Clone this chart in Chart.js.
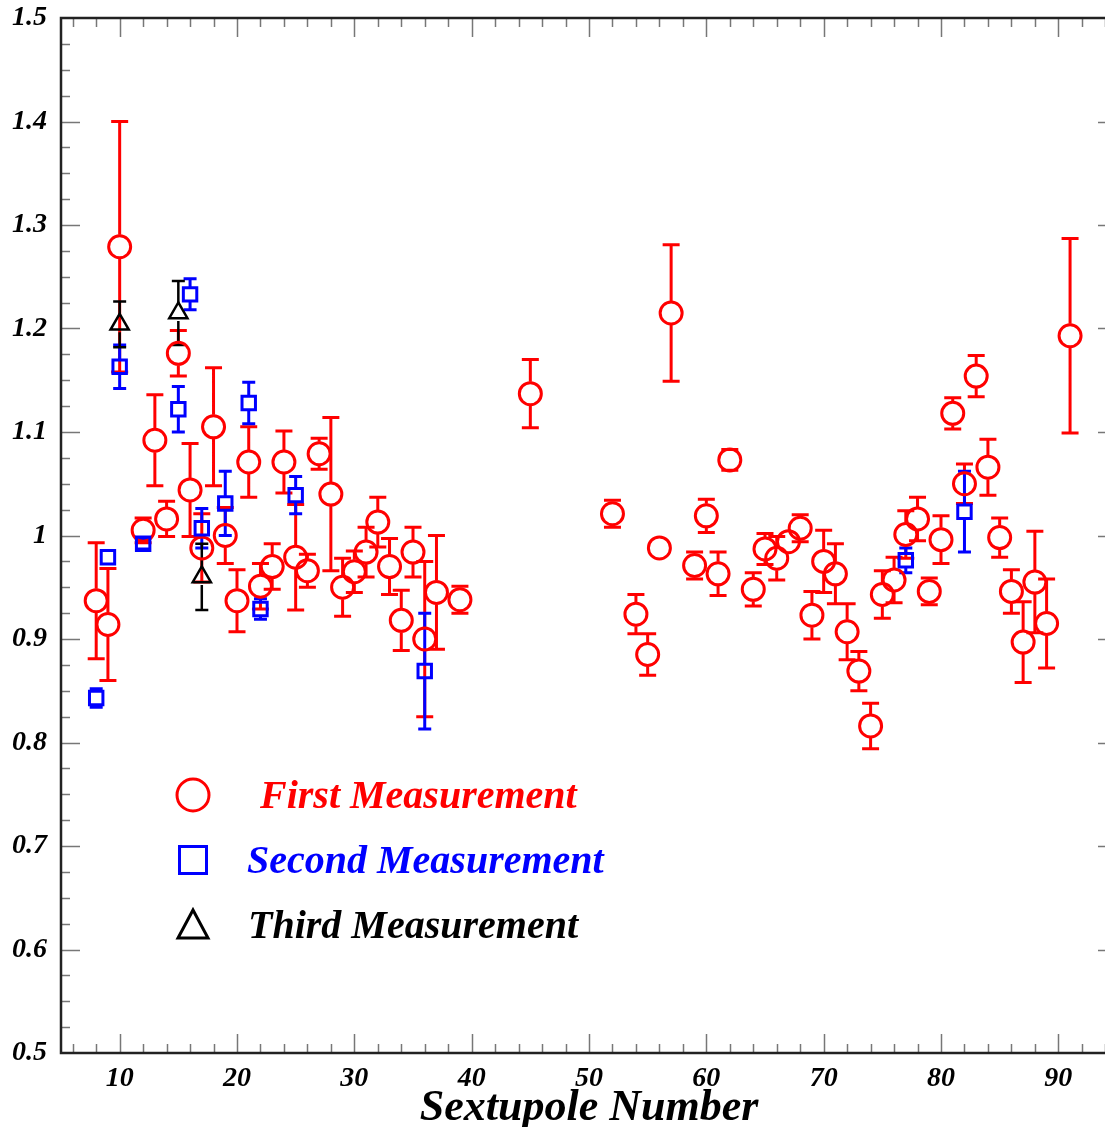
<!DOCTYPE html>
<html>
<head>
<meta charset="utf-8">
<script src="https://cdn.jsdelivr.net/npm/chart.js@4.4.1/dist/chart.umd.min.js"></script>
<style>
html, body { margin: 0; padding: 0; background: #fff; }
#wrap { width: 1105px; height: 1127px; overflow: hidden; position: relative; }
canvas { display: block; }
</style>
</head>
<body>
<div id="wrap"><canvas id="chart_sext" width="1120" height="1127" style="width:1120px;height:1127px"></canvas></div>
<script>
// first measurement
const firstX = [8, 9, 10, 12, 13, 14, 15, 16, 17, 18,
  19, 20, 21, 22, 23, 24, 25, 26, 27, 28,
  29, 30, 31, 32, 33, 34, 35, 36, 37, 39,
  45, 52, 54, 55, 56, 57, 59, 60, 61, 62,
  64, 65, 66, 67, 68, 69, 70, 71, 72, 73,
  74, 75, 76, 77, 78, 79, 80, 81, 82, 83,
  84, 85, 86, 87, 88, 89, 91];
const firstY = [0.937, 0.914, 1.279, 1.005, 1.092, 1.016, 1.176, 1.044, 0.988, 1.105,
  1.000, 0.937, 1.071, 0.951, 0.970, 1.071, 0.979, 0.966, 1.079, 1.040,
  0.950, 0.965, 0.984, 1.013, 0.970, 0.918, 0.984, 0.900, 0.945, 0.938,
  1.137, 1.021, 0.924, 0.885, 0.988, 1.215, 0.971, 1.019, 0.963, 1.073,
  0.948, 0.987, 0.978, 0.994, 1.007, 0.923, 0.975, 0.963, 0.907, 0.869,
  0.816, 0.943, 0.957, 1.001, 1.016, 0.946, 0.996, 1.118, 1.050, 1.154,
  1.066, 0.998, 0.946, 0.897, 0.955, 0.915, 1.193];
const firstErr = [0.056, 0.054, 0.121, 0.012, 0.044, 0.017, 0.022, 0.045, 0.033, 0.057,
  0.027, 0.030, 0.034, 0.022, 0.022, 0.030, 0.051, 0.016, 0.015, 0.074,
  0.028, 0.020, 0.024, 0.024, 0.027, 0.029, 0.024, 0.075, 0.055, 0.013,
  0.033, 0.013, 0.019, 0.020, 0, 0.066, 0.013, 0.016, 0.021, 0.010,
  0.016, 0.015, 0.021, 0, 0.013, 0.023, 0.030, 0.029, 0.027, 0.019,
  0.022, 0.023, 0.022, 0.023, 0.021, 0.013, 0.023, 0.015, 0.019, 0.020,
  0.027, 0.019, 0.021, 0.039, 0.049, 0.043, 0.094];

// second measurement
const secondX = [8, 9, 10, 12, 15, 16, 17, 19, 21, 22, 25, 36, 77, 82];
const secondY = [0.843, 0.979, 1.163, 0.992, 1.122, 1.233, 1.007, 1.031, 1.128, 0.929, 1.039, 0.869, 0.976, 1.023];
const secondErr = [0.009, 0, 0.021, 0.005, 0.022, 0.015, 0.019, 0.031, 0.020, 0.010, 0.018, 0.056, 0.012, 0.039];

// third measurement
const thirdX = [10, 15, 17];
const thirdY = [1.204, 1.215, 0.960];
const thirdErr = [0.022, 0.031, 0.032];

const xTicks = [10, 20, 30, 40, 50, 60, 70, 80, 90];
const yTicks = [0.5, 0.6, 0.7, 0.8, 0.9, 1.0, 1.1, 1.2, 1.3, 1.4, 1.5];

const legendItems = [
  {label: "First Measurement", color: "#ff0000", shape: "circle"},
  {label: "Second Measurement", color: "#0000ff", shape: "rect"},
  {label: "Third Measurement", color: "#000000", shape: "triangle"}
];

const SERIF = "'Liberation Serif', 'DejaVu Serif', serif";

function toPoints(xs, ys) {
  return xs.map((x, i) => ({x: x, y: ys[i]}));
}

// error bars drawn through the y scale
const errorBars = {
  id: "errorBars",
  beforeDatasetsDraw(chart) {
    const ctx = chart.ctx;
    const yScale = chart.scales.y;
    chart.data.datasets.forEach((ds, di) => {
      const meta = chart.getDatasetMeta(di);
      ctx.save();
      ctx.strokeStyle = ds.borderColor;
      ctx.lineWidth = ds.errWidth;
      ctx.beginPath();
      ds.data.forEach((p, i) => {
        const e = ds.errors[i];
        if (!e) return;
        const px = meta.data[i].x;
        const py = meta.data[i].y;
        const top = yScale.getPixelForValue(p.y + e);
        const bot = yScale.getPixelForValue(p.y - e);
        if (py - top > ds.gap) {
          ctx.moveTo(px, py - ds.gap); ctx.lineTo(px, top);
          ctx.moveTo(px, py + ds.gap); ctx.lineTo(px, bot);
        }
        ctx.moveTo(px - ds.cap / 2, top); ctx.lineTo(px + ds.cap / 2, top);
        ctx.moveTo(px - ds.cap / 2, bot); ctx.lineTo(px + ds.cap / 2, bot);
      });
      ctx.stroke();
      ctx.restore();
    });
  }
};

// frame with inward ticks on all four sides
const frameTicks = {
  id: "frameTicks",
  afterDatasetsDraw(chart) {
    const ctx = chart.ctx;
    const a = chart.chartArea;
    const x = chart.scales.x, y = chart.scales.y;
    ctx.save();
    ctx.strokeStyle = "#777";
    ctx.lineWidth = 1.5;
    ctx.beginPath();
    for (let v = 6; v <= 94; v += 2) {
      const px = Math.round(x.getPixelForValue(v)) + 0.5;
      const len = v % 10 === 0 ? 19 : 9;
      ctx.moveTo(px, a.bottom); ctx.lineTo(px, a.bottom - len);
      ctx.moveTo(px, a.top); ctx.lineTo(px, a.top + len);
    }
    for (let i = 1; i < 40; i++) {
      const py = Math.round(y.getPixelForValue(0.5 + i * 0.025)) + 0.5;
      const len = i % 4 === 0 ? 19 : 9;
      ctx.moveTo(a.left, py); ctx.lineTo(a.left + len, py);
      ctx.moveTo(a.right, py); ctx.lineTo(a.right - len, py);
    }
    ctx.stroke();
    ctx.strokeStyle = "#222";
    ctx.lineWidth = 2.5;
    ctx.strokeRect(a.left, a.top, a.right - a.left, a.bottom - a.top);
    ctx.restore();
  }
};

// legend inside the plot
const boxLegend = {
  id: "boxLegend",
  afterDraw(chart) {
    const ctx = chart.ctx;
    const mx = 193;
    const rows = [795, 860, 925];
    const textX = [260, 247, 248];
    ctx.save();
    ctx.font = "italic bold 40px " + SERIF;
    ctx.textBaseline = "alphabetic";
    legendItems.forEach((it, i) => {
      const cy = rows[i];
      ctx.strokeStyle = it.color;
      ctx.lineWidth = 3;
      ctx.beginPath();
      if (it.shape === "circle") {
        ctx.arc(mx, cy, 16, 0, Math.PI * 2);
      } else if (it.shape === "rect") {
        ctx.rect(mx - 13.5, cy - 13.5, 27, 27);
      } else {
        ctx.moveTo(mx, cy - 15);
        ctx.lineTo(mx + 15, cy + 13);
        ctx.lineTo(mx - 15, cy + 13);
        ctx.closePath();
      }
      ctx.stroke();
      ctx.fillStyle = it.color;
      ctx.fillText(it.label, textX[i], cy + 13);
    });
    ctx.restore();
  }
};

const ctx = document.getElementById("chart_sext").getContext("2d");
const tickFont = {family: SERIF, size: 28, style: "italic", weight: "bold"};

new Chart(ctx, {
  type: "scatter",
  data: {
    datasets: [
      {
        label: "First Measurement",
        data: toPoints(firstX, firstY),
        errors: firstErr,
        borderColor: "#ff0000",
        backgroundColor: "rgba(0,0,0,0)",
        pointStyle: "circle",
        pointRadius: 11,
        borderWidth: 3,
        errWidth: 3,
        cap: 17,
        gap: 12,
        order: 3
      },
      {
        label: "Second Measurement",
        data: toPoints(secondX, secondY),
        errors: secondErr,
        borderColor: "#0000ff",
        backgroundColor: "rgba(0,0,0,0)",
        pointStyle: "rect",
        pointRadius: 9.5,
        borderWidth: 3,
        errWidth: 3,
        cap: 13,
        gap: 7,
        order: 2
      },
      {
        label: "Third Measurement",
        data: toPoints(thirdX, thirdY),
        errors: thirdErr,
        borderColor: "#000000",
        backgroundColor: "rgba(0,0,0,0)",
        pointStyle: "triangle",
        pointRadius: 10.5,
        borderWidth: 2.5,
        errWidth: 2.5,
        cap: 13,
        gap: 8,
        order: 1
      }
    ]
  },
  options: {
    responsive: false,
    animation: false,
    devicePixelRatio: 1,
    layout: {autoPadding: false, padding: {top: 18, right: 3, left: 0, bottom: 0}},
    plugins: {legend: {display: false}, tooltip: {enabled: false}},
    scales: {
      x: {
        type: "linear",
        min: 5,
        max: 95,
        grid: {display: false, drawTicks: false},
        border: {display: false},
        afterBuildTicks: (scale) => { scale.ticks = xTicks.map(v => ({value: v})); },
        afterFit: (scale) => { scale.height = 74; scale.paddingLeft = 0; scale.paddingRight = 0; },
        ticks: {color: "#000", font: tickFont, padding: 9, maxRotation: 0, autoSkip: false},
        title: {
          display: true,
          text: "Sextupole Number",
          color: "#000",
          font: {family: SERIF, size: 44, style: "italic", weight: "bold", lineHeight: 0.85},
          padding: 0
        }
      },
      y: {
        type: "linear",
        min: 0.5,
        max: 1.5,
        grid: {display: false, drawTicks: false},
        border: {display: false},
        afterBuildTicks: (scale) => { scale.ticks = yTicks.map(v => ({value: v})); },
        afterFit: (scale) => { scale.width = 61; scale.paddingTop = 0; scale.paddingBottom = 0; },
        ticks: {
          color: "#000",
          font: tickFont,
          padding: 14,
          autoSkip: false,
          callback: (v) => (Math.abs(v - 1) < 1e-9 ? "1" : v.toFixed(1))
        }
      }
    }
  },
  plugins: [errorBars, frameTicks, boxLegend]
});
</script>
</body>
</html>
